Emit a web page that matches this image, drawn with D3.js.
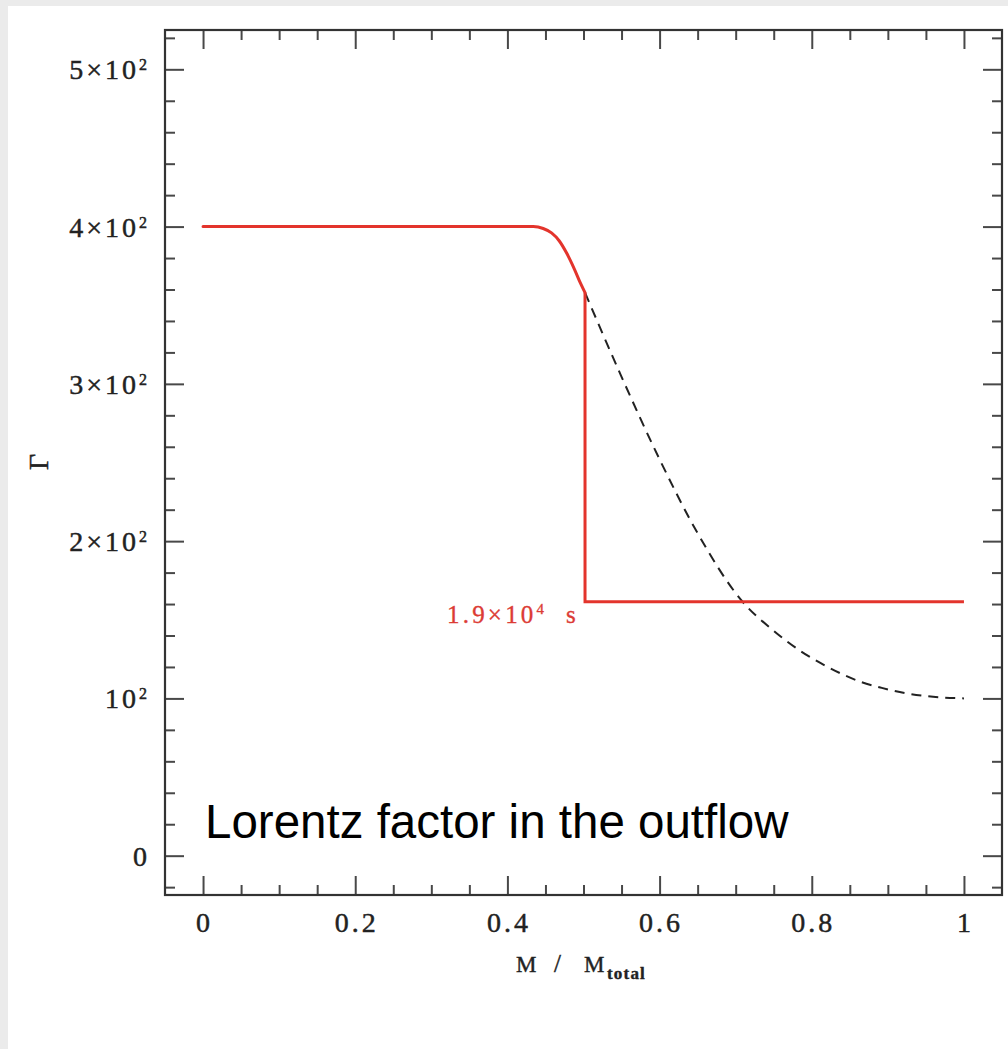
<!DOCTYPE html>
<html>
<head>
<meta charset="utf-8">
<script src="https://cdn.jsdelivr.net/npm/d3@7"></script>
<style>
  html, body { margin: 0; padding: 0; background: #ebebeb; }
  svg { display: block; }
</style>
</head>
<body>
<svg id="chart" width="1008" height="1049"></svg>
<script>
// ---- data ----
const xMajorTicks = [0, 0.2, 0.4, 0.6, 0.8, 1];
const xTickLabels = ["0", "0.2", "0.4", "0.6", "0.8", "1"];
const yMajorTicks = [0, 100, 200, 300, 400, 500];
const yTickLabelBase = ["0", "10", "2×10", "3×10", "4×10", "5×10"];
const yTickLabelSup  = ["",  "2",  "2",    "2",    "2",    "2"];

// red (actual) Lorentz factor: plateau + smooth roll-off to the break
const redCurveM = [0, 0.434, 0.447, 0.458, 0.468, 0.478, 0.488, 0.496, 0.502];
const redCurveG = [400, 400, 398.8, 396, 391, 383, 373, 364, 358];
// after the break at 1.9e4 s: vertical drop then flat
const redStepM = [0.502, 0.502, 1.0];
const redStepG = [358, 161.5, 161.5];

// dashed (initial) profile continuing past the break
const dashM = [0.502, 0.549, 0.6, 0.65, 0.709, 0.75, 0.7855, 0.821, 0.8645, 0.892, 0.922, 0.95, 0.975, 1.0];
const dashG = [358, 305.6, 252, 205, 161.5, 143, 130, 120, 110.5, 106.7, 103.4, 101.5, 100.5, 100];

const annotationMain = "1.9×10";
const annotationSup = "4";
const annotationUnit = "s";
const titleText = "Lorentz factor in the outflow";

// ---- layout ----
const svg = d3.select("#chart");
svg.append("rect").attr("x", 8).attr("y", 6).attr("width", 1000).attr("height", 1043).attr("fill", "#ffffff");

const L = 165, R = 1002, T = 30, B = 895;
const x = d3.scaleLinear().domain([-0.05, 1.05]).range([L, R]);
const y = d3.scaleLinear().domain([-25, 525]).range([B, T]);

const xMinor = d3.range(0, 21).map(i => i * 0.05).filter(v => xMajorTicks.every(m => Math.abs(m - v) > 1e-9));
const yMinor = d3.range(-1, 27).map(i => i * 20).filter(v => v % 100 !== 0 && v > -25 && v < 525);

const tickColor = "#484848";
function drawAxis(axisGen, transform) {
  const g = svg.append("g").attr("transform", transform).call(axisGen);
  g.select(".domain").remove();
  g.selectAll("text").remove();
  g.selectAll("line").attr("stroke", tickColor).attr("stroke-width", 2);
  return g;
}
// bottom
drawAxis(d3.axisBottom(x).tickValues(xMajorTicks).tickSize(-19), `translate(0,${B})`);
drawAxis(d3.axisBottom(x).tickValues(xMinor).tickSize(-10), `translate(0,${B})`);
// top
drawAxis(d3.axisTop(x).tickValues(xMajorTicks).tickSize(-19), `translate(0,${T})`);
drawAxis(d3.axisTop(x).tickValues(xMinor).tickSize(-10), `translate(0,${T})`);
// left
drawAxis(d3.axisLeft(y).tickValues(yMajorTicks).tickSize(-19), `translate(${L},0)`);
drawAxis(d3.axisLeft(y).tickValues(yMinor).tickSize(-10), `translate(${L},0)`);
// right
drawAxis(d3.axisRight(y).tickValues(yMajorTicks).tickSize(-19), `translate(${R},0)`);
drawAxis(d3.axisRight(y).tickValues(yMinor).tickSize(-10), `translate(${R},0)`);

// frame
svg.append("rect").attr("x", L).attr("y", T).attr("width", R - L).attr("height", B - T)
  .attr("fill", "none").attr("stroke", "#333").attr("stroke-width", 2.2);

// tick labels
const serif = "'Liberation Serif', 'Times New Roman', serif";
svg.append("g").selectAll("text").data(xMajorTicks).join("text")
  .attr("x", d => x(d) + 1.5).attr("y", 932)
  .attr("text-anchor", "middle")
  .attr("font-family", serif).attr("font-size", 28).attr("letter-spacing", 3)
  .attr("fill", "#222").attr("stroke", "#222").attr("stroke-width", 0.45)
  .text((d, i) => xTickLabels[i]);

const yl = svg.append("g").selectAll("text").data(yMajorTicks).join("text")
  .attr("x", 150).attr("y", d => y(d) + 10)
  .attr("text-anchor", "end")
  .attr("font-family", serif).attr("font-size", 28).attr("letter-spacing", 3)
  .attr("fill", "#222").attr("stroke", "#222").attr("stroke-width", 0.45);
yl.each(function(d, i) {
  const t = d3.select(this);
  t.append("tspan").text(yTickLabelBase[i]);
  if (yTickLabelSup[i]) {
    t.append("tspan").attr("font-size", 16).attr("dy", -9).text(yTickLabelSup[i]);
  }
});

// axis titles
svg.append("text").attr("transform", "translate(48,462) rotate(-90)")
  .attr("text-anchor", "middle").attr("font-family", serif).attr("font-size", 28)
  .attr("fill", "#222").attr("stroke", "#222").attr("stroke-width", 0.45).text("Γ");

const xt = svg.append("g").attr("font-family", serif).attr("fill", "#222")
  .attr("stroke", "#222").attr("stroke-width", 0.4);
xt.append("text").attr("x", 516).attr("y", 972).attr("font-size", 23).text("M");
xt.append("text").attr("x", 554).attr("y", 972).attr("font-size", 25).text("/");
xt.append("text").attr("x", 584).attr("y", 972).attr("font-size", 23).text("M");
xt.append("text").attr("x", 607).attr("y", 979).attr("font-size", 17).attr("font-weight", "bold")
  .attr("letter-spacing", 1.2).text("total");

// curves
const lineRed = d3.line().x((d, i) => x(redCurveM[i])).y(d => y(d)).curve(d3.curveMonotoneX);
const lineStep = d3.line().x((d, i) => x(redStepM[i])).y(d => y(d));
const lineDash = d3.line().x((d, i) => x(dashM[i])).y(d => y(d)).curve(d3.curveMonotoneX);

svg.append("path").attr("d", lineDash(dashG)).attr("fill", "none")
  .attr("stroke", "#222").attr("stroke-width", 2).attr("stroke-dasharray", "10,7");
svg.append("path").attr("d", lineRed(redCurveG)).attr("fill", "none")
  .attr("stroke", "#e3342c").attr("stroke-width", 3).attr("stroke-linejoin", "round").attr("stroke-linecap", "round");
svg.append("path").attr("d", lineStep(redStepG)).attr("fill", "none")
  .attr("stroke", "#e3342c").attr("stroke-width", 3).attr("stroke-linejoin", "miter");

// annotation
const ann = svg.append("text").attr("x", 447).attr("y", 623)
  .attr("font-family", serif).attr("font-size", 25).attr("letter-spacing", 3.2)
  .attr("fill", "#dc3b35").attr("stroke", "#dc3b35").attr("stroke-width", 0.35);
ann.append("tspan").text(annotationMain);
ann.append("tspan").attr("font-size", 15).attr("dy", -9).text(annotationSup);
ann.append("tspan").attr("x", 566).attr("dy", 9).text(annotationUnit);

// big title
svg.append("text").attr("x", 205).attr("y", 838)
  .attr("font-family", "'Liberation Sans', Arial, sans-serif").attr("font-size", 47.5)
  .attr("fill", "#000").text(titleText);
</script>
</body>
</html>
